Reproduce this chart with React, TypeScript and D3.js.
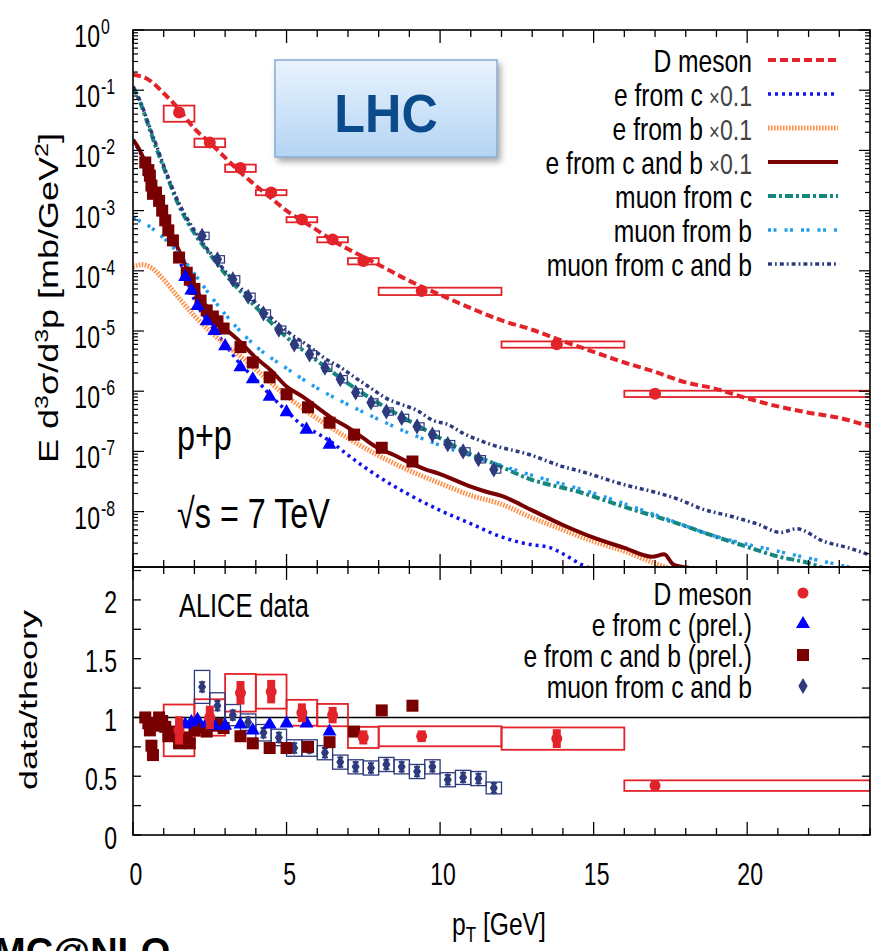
import React from "react";
import * as d3 from "d3";

// ---------- DATA ----------
// Theory curves (MC@NLO), upper panel
const dMesonCurveX = [0,0.5,1,1.5,2,2.5,3,3.5,4,4.5,5,5.5,6,6.5,7,7.5,8,9,10,11,12,13,13.8,15,16,17,18,18.9,20,21,22,23,24];
const dMesonCurveY = [1.8e-1,1.5e-1,8.9e-2,4.8e-2,2.3e-2,1.35e-2,7.6e-3,4.3e-3,2.6e-3,1.6e-3,1.0e-3,6.8e-4,4.7e-4,3.2e-4,2.3e-4,1.7e-4,1.26e-4,6.8e-5,4.0e-5,2.4e-5,1.5e-5,1.05e-5,7.4e-6,4.5e-6,3.0e-6,2.1e-6,1.4e-6,1.12e-6,7.6e-7,5.6e-7,4.4e-7,3.6e-7,2.6e-7];

const eFromCCurveX = [0,0.5,1,1.5,2,2.5,3,3.5,4,4.5,5,5.5,6,6.5,7,8,9,10,11,12,13,13.5,14,14.6,15];
const eFromCCurveY = [1.48e-2,4.7e-3,7.9e-4,1.58e-4,3.3e-5,1.32e-5,6.0e-6,2.8e-6,1.58e-6,8.3e-7,4.7e-7,2.75e-7,2.0e-7,1.38e-7,8.7e-8,3.8e-8,1.9e-8,1.05e-8,6.3e-9,3.8e-9,2.8e-9,2.6e-9,2.0e-9,1.32e-9,1.1e-9];

const eFromBCurveX = [0,0.3,0.6,1,1.5,2,2.5,3,3.5,4,5,6,7,8,9,10,11,12,13,14,15,16,17,17.5];
const eFromBCurveY = [1.17e-4,1.26e-4,1.12e-4,7.1e-5,3.5e-5,1.78e-5,1.0e-5,6.0e-6,3.8e-6,2.3e-6,8.3e-7,3.5e-7,1.66e-7,8.5e-8,4.8e-8,2.95e-8,1.86e-8,1.32e-8,7.9e-9,5.0e-9,3.2e-9,2.2e-9,1.38e-9,1.12e-9];

const eFromCBCurveX = [0,0.2,0.4,0.6,0.8,1,1.25,1.5,1.75,2,2.5,3,3.5,4,4.5,5,5.5,6,6.5,7,7.5,8,8.5,9,9.5,10,11,11.5,12,13,14,15,16,16.9,17.3,17.6,18.1];
const eFromCBCurveY = [1.51e-2,1.05e-2,6.3e-3,3.47e-3,1.82e-3,8.9e-4,4.17e-4,2.14e-4,1.12e-4,5.6e-5,2.14e-5,1.12e-5,6.5e-6,3.6e-6,2.2e-6,1.2e-6,8.3e-7,5.4e-7,3.5e-7,2.5e-7,1.66e-7,1.12e-7,8.7e-8,6.5e-8,5.1e-8,4.2e-8,2.6e-8,2.14e-8,1.82e-8,1.05e-8,6.0e-9,3.7e-9,2.5e-9,1.78e-9,1.95e-9,1.32e-9,1.17e-9];

const muCCurveX = [0,0.25,0.5,0.75,1,1.5,2,2.5,3,4,5,6,7,8,9,10,11,11.6,12.9,14.56,16,17.8,19,20,21,22,22.8];
const muCCurveY = [1.15e-1,6.0e-2,2.6e-2,1.12e-2,5.2e-3,1.2e-3,4.2e-4,1.9e-4,8.9e-5,2.5e-5,7.9e-6,3.2e-6,1.35e-6,6.3e-7,3.2e-7,1.66e-7,8.9e-8,6.8e-8,3.5e-8,2.1e-8,1.2e-8,6.2e-9,3.8e-9,2.6e-9,1.8e-9,1.4e-9,1.0e-9];

const muBCurveX = [0,0.5,1,1.5,2,2.5,3,4,5,6,7,8,9,10,11.3,13,14.9,17,18.9,21,23,24];
const muBCurveY = [7.6e-4,5.6e-4,3.5e-4,1.9e-4,8.9e-5,4.0e-5,1.9e-5,5.6e-6,2.4e-6,1.12e-6,6.0e-7,3.4e-7,2.0e-7,1.26e-7,7.6e-8,4.0e-8,2.1e-8,8.9e-9,4.0e-9,2.2e-9,1.3e-9,1.0e-9];

const muCBCurveX = [0,0.25,0.5,0.75,1,1.25,1.5,1.75,2,2.25,2.75,3.25,3.75,4.25,4.75,5.25,5.75,6.25,6.75,7.25,7.75,8.25,8.75,9.25,9.75,10.25,10.75,11.25,11.75,12.9,14,14.56,16,17,17.8,18.5,19.5,20.3,21.1,21.6,22.5,23.3,24];
const muCBCurveY = [1.15e-1,6.3e-2,2.8e-2,1.26e-2,5.6e-3,2.6e-3,1.32e-3,7.6e-4,4.7e-4,3.0e-4,1.41e-4,7.1e-5,3.9e-5,2.2e-5,1.26e-5,8.1e-6,5.5e-6,3.5e-6,2.5e-6,1.66e-6,1.12e-6,7.6e-7,6.0e-7,4.8e-7,3.3e-7,2.8e-7,2.0e-7,1.55e-7,1.26e-7,8.9e-8,5.6e-8,4.7e-8,2.8e-8,2.1e-8,1.58e-8,1.12e-8,8.3e-9,6.3e-9,4.5e-9,5.2e-9,3.2e-9,2.5e-9,1.9e-9];

// ALICE data
const dMesonX = [1.5,2.5,3.5,4.5,5.5,6.5,7.5,9.4,13.8,17];
const dMesonBinLo = [1,2,3,4,5,6,7,8,12,16];
const dMesonBinHi = [2,3,4,5,6,7,8,12,16,24];
const dMesonY = [4.27e-2,1.35e-2,5.1e-3,2.0e-3,7.1e-4,3.3e-4,1.45e-4,4.6e-5,6.0e-6,9.1e-7];
const dMesonSys = [0.3,0.16,0.14,0.1,0.1,0.1,0.12,0.14,0.12,0.12];
const dMesonRatio = [0.89,1.0,1.21,1.22,1.04,1.02,0.83,0.84,0.82,0.42];
const dMesonRatioSys = [0.22,0.155,0.16,0.145,0.11,0.095,0.09,0.085,0.095,0.045];
const dMesonRatioStat = [0.12,0.1,0.1,0.1,0.08,0.07,0.06,0.05,0.08,0.04];

const eCX = [1.7,1.9,2.1,2.4,2.65,3.0,3.5,3.9,4.45,5.0,5.65,6.4];
const eCY = [7.9e-5,4.7e-5,2.6e-5,1.45e-5,1.0e-5,5.6e-6,2.5e-6,1.58e-6,8.1e-7,4.5e-7,2.3e-7,1.29e-7];
const eCRatio = [0.94,0.96,0.98,0.95,0.93,0.93,0.94,0.89,0.94,0.95,0.95,0.88];

const eCBX = [0.4,0.5,0.55,0.6,0.65,0.75,0.85,0.95,1.05,1.15,1.3,1.5,1.75,1.85,2.0,2.2,2.4,2.6,2.75,2.95,3.5,3.9,4.45,5.0,5.7,6.4,7.2,8.1,9.1];
const eCBY = [6.3e-3,4.7e-3,3.8e-3,2.6e-3,1.9e-3,2.0e-3,1.45e-3,1.0e-3,6.9e-4,4.7e-4,3.2e-4,1.66e-4,9.3e-5,7.1e-5,5.0e-5,3.2e-5,2.2e-5,1.74e-5,1.45e-5,1.1e-5,5.4e-6,3.0e-6,1.7e-6,8.9e-7,5.4e-7,3.0e-7,1.9e-7,1.15e-7,6.8e-8];
const eCBRatio = [1.0,0.95,0.89,0.76,0.68,0.93,1.0,0.97,0.92,0.84,0.88,0.78,0.83,0.78,0.89,0.91,0.88,0.93,0.94,0.91,0.84,0.78,0.74,0.74,0.75,0.79,0.88,1.06,1.1];

const muX = [2.25,2.75,3.25,3.75,4.25,4.75,5.25,5.75,6.25,6.75,7.25,7.75,8.25,8.75,9.25,9.75,10.25,10.75,11.25,11.75];
const muY = [3.8e-4,1.55e-4,7.2e-5,3.7e-5,1.95e-5,1.05e-5,6.0e-6,4.1e-6,2.45e-6,1.58e-6,9.5e-7,6.5e-7,4.6e-7,3.6e-7,2.6e-7,1.9e-7,1.32e-7,1.0e-7,7.4e-8,5.0e-8];
const muRatio = [1.26,1.1,1.02,0.96,0.87,0.83,0.74,0.74,0.70,0.62,0.58,0.57,0.60,0.58,0.54,0.58,0.47,0.49,0.48,0.40];
const muRatioSys = [0.14,0.11,0.09,0.07,0.07,0.07,0.07,0.07,0.06,0.06,0.06,0.06,0.06,0.06,0.06,0.06,0.06,0.06,0.06,0.05];

const xTickLabels = [0,5,10,15,20];
const yUpperExps = [0,-1,-2,-3,-4,-5,-6,-7,-8];
const yLowerLabels = ["0","0.5","1","1.5","2"];

const upperLegend = [
  { label: "D meson", scale: "" },
  { label: "e from c", scale: "0.1" },
  { label: "e from b", scale: "0.1" },
  { label: "e from c and b", scale: "0.1" },
  { label: "muon from c", scale: "" },
  { label: "muon from b", scale: "" },
  { label: "muon from c and b", scale: "" },
];
const lowerLegend = ["D meson", "e from c (prel.)", "e from c and b (prel.)", "muon from c and b"];

// ---------- STYLES ----------
const FONT = "'Liberation Sans', Arial, Helvetica, sans-serif";
const C = {
  red: "#e3232a",
  blue: "#1010f2",
  orange: "#ff8d45",
  darkred: "#780000",
  teal: "#15877c",
  lightblue: "#229cf0",
  navy: "#2d3a7e",
};
const curveStyles = [
  { color: C.red, dash: "8,4", w: 4 },
  { color: C.blue, dash: "3,4", w: 3.5 },
  { color: C.orange, dash: "1.6,1.4", w: 5 },
  { color: C.darkred, dash: "", w: 4 },
  { color: C.teal, dash: "8,3,3,3", w: 4 },
  { color: C.lightblue, dash: "3,2.5,3,8", w: 3.5 },
  { color: C.navy, dash: "4,3,1.8,3", w: 3.5 },
];

const L = 133, R = 870, TU = 30, BU = 567, TL = 567, BL = 835;

function Txt({ x, y, size, sx = 0.77, anchor = "start", weight = "normal", fill = "#000", children }: any) {
  return (
    <text transform={`translate(${x},${y}) scale(${sx},1)`} fontSize={size} fontFamily={FONT}
      textAnchor={anchor} fontWeight={weight} fill={fill}>{children}</text>
  );
}

export default function App() {
  React.useEffect(() => { document.body.style.margin = "0"; }, []);
  const x = d3.scaleLinear().domain([0, 24]).range([L, R]);
  const yU = d3.scaleLog().domain([Math.pow(10, -8.92), 1]).range([BU, TU]);
  const yL = d3.scaleLinear().domain([0, 2.28]).range([BL, TL]);

  const lineU = (xs: number[], ys: number[]) =>
    d3.line<number>().x((_, i) => x(xs[i])).y((_, i) => yU(ys[i])).curve(d3.curveMonotoneX)(xs) || "";

  const curves = [
    [dMesonCurveX, dMesonCurveY],
    [eFromCCurveX, eFromCCurveY],
    [eFromBCurveX, eFromBCurveY],
    [eFromCBCurveX, eFromCBCurveY],
    [muCCurveX, muCCurveY],
    [muBCurveX, muBCurveY],
    [muCBCurveX, muCBCurveY],
  ];

  const xTicks = d3.range(0, 25, 1);
  const decadeTicks: { v: number; major: boolean }[] = [];
  for (let e = -9; e <= 0; e++) {
    for (let m = 1; m <= 9; m++) {
      const v = m * Math.pow(10, e);
      if (v >= yU.domain()[0] && v <= 1) decadeTicks.push({ v, major: m === 1 });
    }
  }
  const yLTicks = d3.range(0, 2.26, 0.25);

  const tri = d3.symbol().type(d3.symbolTriangle).size(85)() || "";
  const dia = d3.symbol().type(d3.symbolDiamond).size(75)() || "";
  const diaS = d3.symbol().type(d3.symbolDiamond).size(55)() || "";

  return (
    <svg width={874} height={951} style={{ position: "absolute", left: 0, top: 0, background: "#fff" }}
      xmlns="http://www.w3.org/2000/svg">
      <defs>
        <clipPath id="clipU"><rect x={L} y={TU} width={R - L} height={BU - TU} /></clipPath>
        <clipPath id="clipL"><rect x={L} y={TL} width={R - L} height={BL - TL} /></clipPath>
        <linearGradient id="lhcGrad" x1="0" y1="0" x2="0" y2="1">
          <stop offset="0" stopColor="#e9f3fd" />
          <stop offset="1" stopColor="#b4d4f4" />
        </linearGradient>
        <filter id="shadow" x="-10%" y="-10%" width="130%" height="140%">
          <feDropShadow dx="3" dy="4" stdDeviation="3" floodColor="#000" floodOpacity="0.35" />
        </filter>
      </defs>
      <rect x={0} y={0} width={874} height={951} fill="#fff" />

      {/* ---------- UPPER PANEL ---------- */}
      <g clipPath="url(#clipU)">
        {curves.map((c, i) => (
          <path key={i} d={lineU(c[0] as number[], c[1] as number[])} fill="none"
            stroke={curveStyles[i].color} strokeWidth={curveStyles[i].w}
            strokeDasharray={curveStyles[i].dash || undefined} />
        ))}
        {/* D meson boxes & points */}
        {dMesonX.map((v, i) => (
          <g key={"dm" + i}>
            <rect x={x(dMesonBinLo[i])} y={yU(dMesonY[i] * (1 + dMesonSys[i]))}
              width={x(dMesonBinHi[i]) - x(dMesonBinLo[i])}
              height={yU(dMesonY[i] * (1 - dMesonSys[i])) - yU(dMesonY[i] * (1 + dMesonSys[i]))}
              fill="none" stroke={C.red} strokeWidth={1.8} />
            <line x1={x(v)} x2={x(v)} y1={yU(dMesonY[i] * 1.12)} y2={yU(dMesonY[i] * 0.89)} stroke={C.red} strokeWidth={4} />
            <circle cx={x(v)} cy={yU(dMesonY[i])} r={6} fill={C.red} />
          </g>
        ))}
        {/* e from c and b squares */}
        {eCBX.map((v, i) => (
          <rect key={"ecb" + i} x={x(v) - 6} y={yU(eCBY[i]) - 6} width={12} height={12} fill={C.darkred} />
        ))}
        {/* e from c triangles */}
        {eCX.map((v, i) => (
          <path key={"ec" + i} d={tri} transform={`translate(${x(v)},${yU(eCY[i])})`} fill="#0000ff" />
        ))}
        {/* muon diamonds */}
        {muX.map((v, i) => (
          <g key={"mu" + i}>
            <rect x={x(v) - 2} y={yU(muY[i] * 1.15)} width={9} height={yU(muY[i] * 0.87) - yU(muY[i] * 1.15)}
              fill="none" stroke={C.navy} strokeWidth={1.2} />
            <path d={dia} transform={`translate(${x(v)},${yU(muY[i])})`} fill={C.navy} />
          </g>
        ))}
      </g>

      {/* LHC box */}
      <rect x={275} y={60} width={222} height={97} fill="url(#lhcGrad)" stroke="#86abd0" strokeWidth={1.5} filter="url(#shadow)" />
      <Txt x={386} y={132} size={53} sx={0.95} anchor="middle" weight="bold" fill="#0b4a8b">LHC</Txt>

      {/* p+p text */}
      <Txt x={177} y={450} size={42}>p+p</Txt>
      <Txt x={177} y={528} size={42}>√s = 7 TeV</Txt>

      {/* upper legend */}
      {upperLegend.map((d, i) => {
        const cy = 60 + i * 34;
        return (
          <g key={"ul" + i}>
            <text transform={`translate(752,${cy + 11.5}) scale(0.77,1)`} fontSize={32} fontFamily={FONT} textAnchor="end">
              {d.label}
              {d.scale && <tspan fill="#444" fontSize={24} dx={8}>×</tspan>}
              {d.scale && <tspan fill="#444" fontSize={30}>{d.scale}</tspan>}
            </text>
            <line x1={768} x2={838} y1={cy} y2={cy} stroke={curveStyles[i].color} strokeWidth={curveStyles[i].w}
              strokeDasharray={curveStyles[i].dash || undefined} />
          </g>
        );
      })}

      {/* ---------- LOWER PANEL ---------- */}
      <line x1={L} x2={R} y1={yL(1)} y2={yL(1)} stroke="#000" strokeWidth={1.5} />
      <g clipPath="url(#clipL)">
        {/* D meson ratio */}
        {dMesonX.map((v, i) => (
          <g key={"dr" + i}>
            <rect x={x(dMesonBinLo[i])} y={yL(dMesonRatio[i] + dMesonRatioSys[i])}
              width={x(dMesonBinHi[i]) - x(dMesonBinLo[i])}
              height={yL(dMesonRatio[i] - dMesonRatioSys[i]) - yL(dMesonRatio[i] + dMesonRatioSys[i])}
              fill="none" stroke={C.red} strokeWidth={1.8} />
          </g>
        ))}
        {/* muon ratio boxes */}
        {muX.map((v, i) => (
          <rect key={"mb" + i} x={x(v - 0.25)} y={yL(muRatio[i] + muRatioSys[i])} width={x(v + 0.25) - x(v - 0.25)}
            height={yL(muRatio[i] - muRatioSys[i]) - yL(muRatio[i] + muRatioSys[i])}
            fill="none" stroke={C.navy} strokeWidth={1.3} />
        ))}
        {muX.map((v, i) => (
          <g key={"mr" + i}>
            <line x1={x(v)} x2={x(v)} y1={yL(muRatio[i] + 0.04)} y2={yL(muRatio[i] - 0.04)} stroke={C.navy} strokeWidth={2} />
            <line x1={x(v) - 3} x2={x(v) + 3} y1={yL(muRatio[i] + 0.04)} y2={yL(muRatio[i] + 0.04)} stroke={C.navy} strokeWidth={2} />
            <line x1={x(v) - 3} x2={x(v) + 3} y1={yL(muRatio[i] - 0.04)} y2={yL(muRatio[i] - 0.04)} stroke={C.navy} strokeWidth={2} />
            <path d={diaS} transform={`translate(${x(v)},${yL(muRatio[i])})`} fill={C.navy} />
          </g>
        ))}
        {eCBX.map((v, i) => (
          <rect key={"ecbr" + i} x={x(v) - 6} y={yL(eCBRatio[i]) - 6} width={12} height={12} fill={C.darkred} />
        ))}
        {eCX.map((v, i) => (
          <path key={"ecr" + i} d={tri} transform={`translate(${x(v)},${yL(eCRatio[i])})`} fill="#0000ff" />
        ))}
        {dMesonX.map((v, i) => (
          <g key={"dp" + i}>
            <rect x={x(v) - 4} y={yL(dMesonRatio[i] + dMesonRatioStat[i])} width={8}
              height={yL(dMesonRatio[i] - dMesonRatioStat[i]) - yL(dMesonRatio[i] + dMesonRatioStat[i])} fill={C.red} />
            <circle cx={x(v)} cy={yL(dMesonRatio[i])} r={5.5} fill={C.red} />
          </g>
        ))}
      </g>

      <Txt x={179} y={617} size={33}>ALICE data</Txt>

      {/* lower legend */}
      {lowerLegend.map((s, i) => {
        const cy = 593 + i * 31;
        return (
          <g key={"ll" + i}>
            <Txt x={752} y={cy + 11.5} size={32} anchor="end">{s}</Txt>
            {i === 0 && <circle cx={803} cy={cy} r={5.5} fill={C.red} />}
            {i === 1 && <path d={tri} transform={`translate(803,${cy})`} fill="#0000ff" />}
            {i === 2 && <rect x={797} y={cy - 6} width={12} height={12} fill={C.darkred} />}
            {i === 3 && <path d={dia} transform={`translate(803,${cy})`} fill={C.navy} />}
          </g>
        );
      })}

      {/* ---------- AXES / FRAMES ---------- */}
      <rect x={L} y={TU} width={R - L} height={BU - TU} fill="none" stroke="#000" strokeWidth={1.6} />
      <rect x={L} y={TL} width={R - L} height={BL - TL} fill="none" stroke="#000" strokeWidth={1.6} />

      {xTicks.map((t) => {
        const len = t % 5 === 0 ? 13 : 7;
        const px = x(t);
        return (
          <g key={"xt" + t} stroke="#000" strokeWidth={1.3}>
            <line x1={px} x2={px} y1={TU} y2={TU + len} />
            <line x1={px} x2={px} y1={BU} y2={BU - len} />
            <line x1={px} x2={px} y1={TL} y2={TL + len} />
            <line x1={px} x2={px} y1={BL} y2={BL - len} />
          </g>
        );
      })}
      {decadeTicks.map((t, i) => {
        const py = yU(t.v);
        const len = t.major ? 11 : 5;
        return (
          <g key={"yt" + i} stroke="#000" strokeWidth={1.2}>
            <line x1={L} x2={L + len} y1={py} y2={py} />
            <line x1={R} x2={R - len} y1={py} y2={py} />
          </g>
        );
      })}
      {yLTicks.map((t, i) => (
        <g key={"ylt" + i} stroke="#000" strokeWidth={1.3}>
          <line x1={L} x2={L + 8} y1={yL(t)} y2={yL(t)} />
          <line x1={R} x2={R - 8} y1={yL(t)} y2={yL(t)} />
        </g>
      ))}

      {/* tick labels */}
      {yUpperExps.map((e) => {
        const py = yU(Math.pow(10, e));
        return (
          <g key={"yl" + e}>
            <Txt x={100} y={py + 17} size={32} sx={0.72} anchor="end">10</Txt>
            <Txt x={101} y={py + 4} size={22} sx={0.72}>{e === 0 ? "0" : "-" + Math.abs(e)}</Txt>
          </g>
        );
      })}
      {yLowerLabels.map((s, i) => (
        <Txt key={"yll" + i} x={117} y={yL(+s) + 13.5} size={32} sx={0.72} anchor="end">{s}</Txt>
      ))}
      {xTickLabels.map((t) => (
        <Txt key={"xl" + t} x={x(t) + 3} y={885} size={32} sx={0.72} anchor="middle">{t}</Txt>
      ))}

      {/* axis titles */}
      <text transform="translate(452,935) scale(0.77,1)" fontSize={32} fontFamily={FONT}>
        p<tspan fontSize={22} dy={7}>T</tspan><tspan dy={-7}> [GeV]</tspan>
      </text>
      <text transform="translate(58,298) scale(0.75,1) rotate(-90)" fontSize={36} fontFamily={FONT} textAnchor="middle">
        E d<tspan fontSize={25} dy={-13}>3</tspan><tspan dy={13}>σ/d</tspan><tspan fontSize={25} dy={-13}>3</tspan><tspan dy={13}>p [mb/GeV</tspan><tspan fontSize={25} dy={-13}>2</tspan><tspan dy={13}>]</tspan>
      </text>
      <text transform="translate(37,700) scale(0.66,1) rotate(-90)" fontSize={36} fontFamily={FONT} textAnchor="middle">
        data/theory
      </text>

      {/* MC@NLO */}
      <text x={-6} y={965} fontSize={38} fontWeight="bold" fontFamily={FONT}>MC@NLO</text>
    </svg>
  );
}
